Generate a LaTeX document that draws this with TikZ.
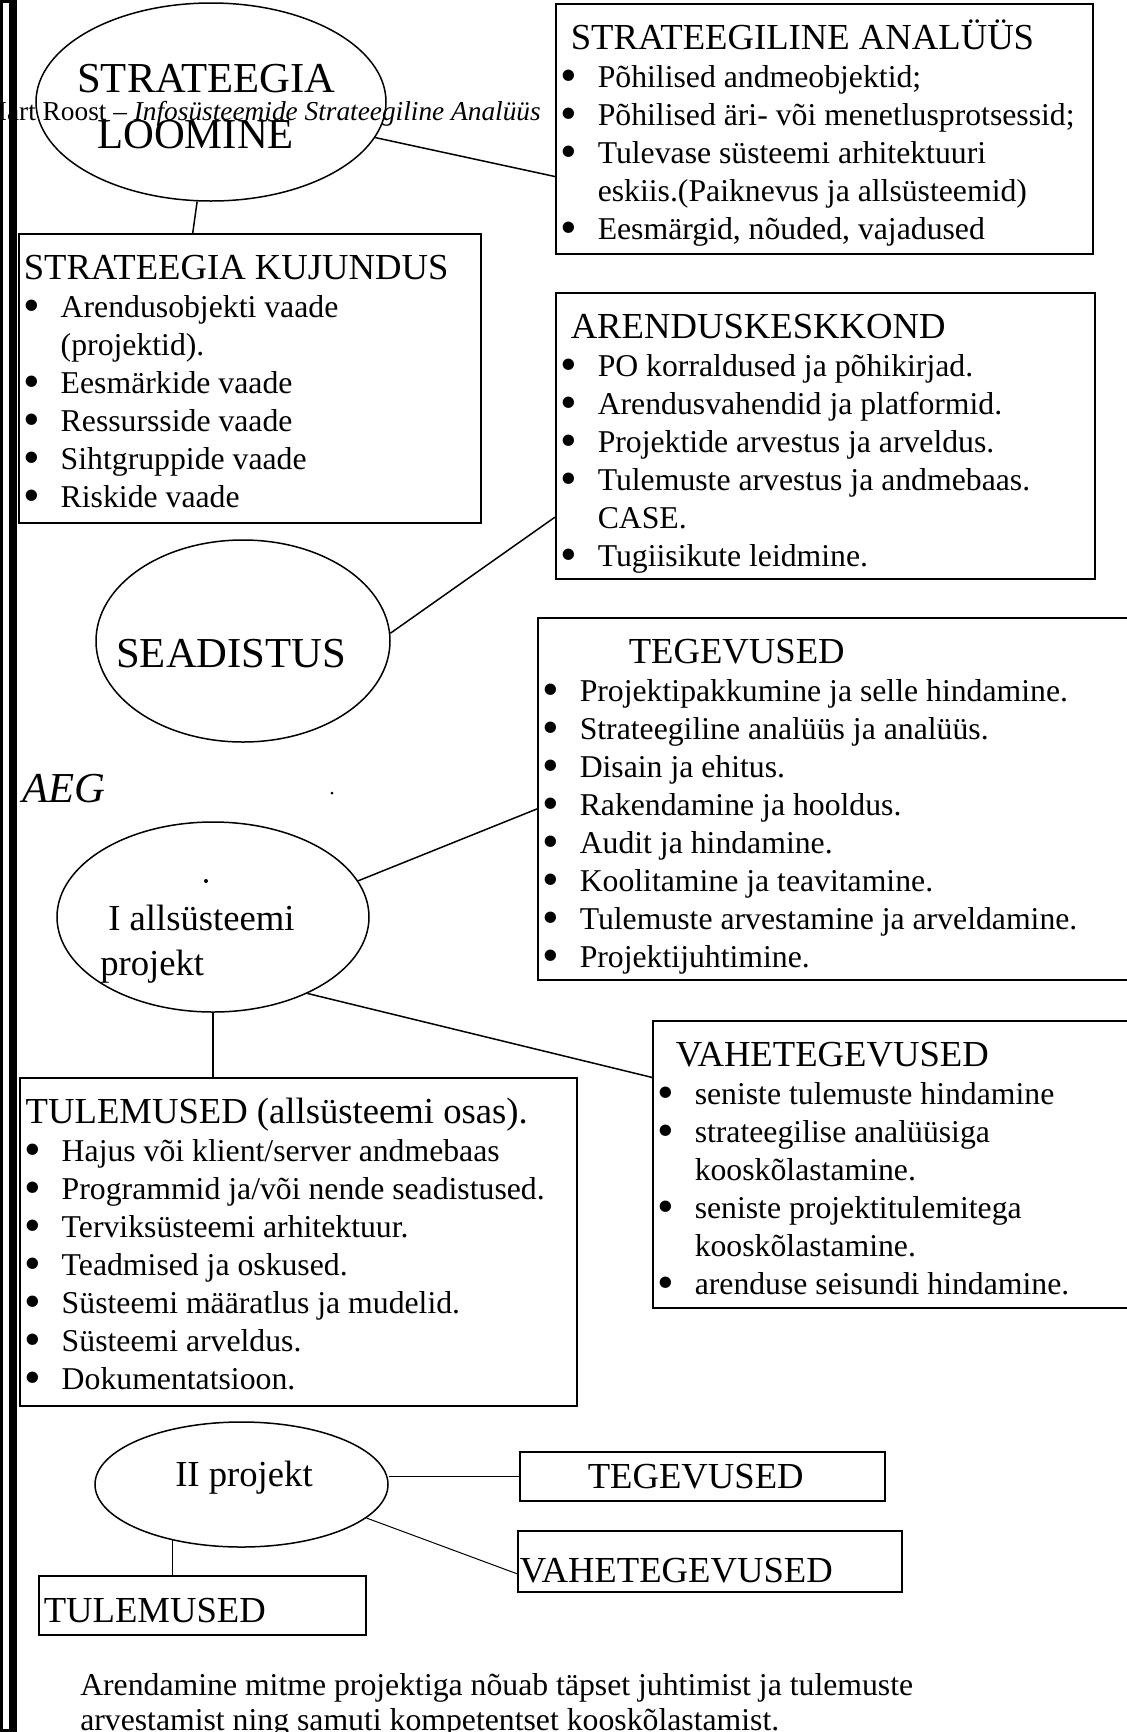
\documentclass[tikz,border=0pt]{standalone}
\usepackage{fontspec}
\setmainfont{Liberation Serif}
\usetikzlibrary{shapes.geometric, calc, positioning}

\newlength{\px}
\setlength{\px}{0.75pt}

\newcommand{\listfont}{\fontsize{23.8pt}{28.5pt}\selectfont}
\newcommand{\titlefont}{\fontsize{27.5pt}{28.5pt}\selectfont}
\newcommand{\ovalfont}{\fontsize{32pt}{36pt}\selectfont}
\newcommand{\runheadfont}{\fontsize{20.5pt}{24pt}\selectfont}

% box body: width, height, lines
\newcommand{\boxtext}[3]{\parbox[c][#2\px][t]{#1\px}{#3}}
\newcommand{\boxtitle}[2]{\hspace*{#1\px}\rule{0pt}{46\px}\mbox{\titlefont #2}\par}
\newcommand{\dotmark}{\raisebox{-3.5\px}{\scalebox{1.5}{\textbullet}}}
\newcommand{\bitem}[1]{\hspace*{5\px}\makebox[37\px][l]{\dotmark}\mbox{#1}\par}
\newcommand{\bcont}[1]{\hspace*{42\px}\mbox{#1}\par}

\tikzset{%
  oval/.style={draw, ellipse, line width=1.5\px, inner sep=0pt},
  listbox/.style={draw, rectangle, line width=1.5\px, inner sep=0pt,
    anchor=north west, font=\listfont},
  ovaltext/.style={anchor=base west, inner sep=0pt, font=\ovalfont},
  edge/.style={line width=1.5\px},
  thin edge/.style={line width=1\px}
}

\begin{document}
\begin{tikzpicture}[x=0.75pt, y=-0.75pt]
  \useasboundingbox (0,0) rectangle (1127,1732);

  % time bar on the left
  \fill (0,0) rectangle (17,1732);
  \fill[white] (3,3) rectangle (9,1729);

  % stages
  \node[oval, minimum width=350\px, minimum height=198\px] (loom) at (211,102) {};
  \node[ovaltext] (loom-a) at (77,92) {STRATEEGIA};
  \node[ovaltext] (loom-b) at (97,148) {LOOMINE};

  \node[oval, minimum width=294\px, minimum height=202\px] (sead) at (243,641) {};
  \node[ovaltext] (sead-a) at (116,667) {SEADISTUS};

  \node[ovaltext, font=\ovalfont\itshape] (aeg) at (22,802) {AEG};

  \node[oval, minimum width=312\px, minimum height=190\px] (iall) at (213,917) {};
  \node[ovaltext, font=\titlefont] (iall-a) at (108,930) {I allsüsteemi};
  \node[ovaltext, font=\titlefont] (iall-b) at (100,975) {projekt};

  \node[oval, minimum width=293\px, minimum height=125\px] (ii) at (241.5,1484.5) {};
  \node[ovaltext, font=\titlefont] (ii-a) at (175,1486) {II projekt};

  \fill (332,793) circle (1.5);
  \fill (206,881) circle (2);

  % running head
  \node[anchor=base east, inner sep=0pt, font=\runheadfont] (runhead) at (541,120)
    {Mart Roost – \textit{Infosüsteemide Strateegiline Analüüs}};

  % lists
  \node[listbox] (anal) at (555,3) {\boxtext{537}{250}{%
    \boxtitle{15}{STRATEEGILINE ANALÜÜS}
    \bitem{Põhilised andmeobjektid;}
    \bitem{Põhilised äri- või menetlusprotsessid;}
    \bitem{Tulevase süsteemi arhitektuuri}
    \bcont{eskiis.(Paiknevus ja allsüsteemid)}
    \bitem{Eesmärgid, nõuded, vajadused}}};

  \node[listbox] (kuj) at (18,233) {\boxtext{462}{289}{%
    \boxtitle{5}{STRATEEGIA KUJUNDUS}
    \bitem{Arendusobjekti vaade}
    \bcont{(projektid).}
    \bitem{Eesmärkide vaade}
    \bitem{Ressursside vaade}
    \bitem{Sihtgruppide vaade}
    \bitem{Riskide vaade}}};

  \node[listbox] (aren) at (555,292) {\boxtext{539}{286}{%
    \boxtitle{15}{ARENDUSKESKKOND}
    \bitem{PO korraldused ja põhikirjad.}
    \bitem{Arendusvahendid ja platformid.}
    \bitem{Projektide arvestus ja arveldus.}
    \bitem{Tulemuste arvestus ja andmebaas.}
    \bcont{CASE.}
    \bitem{Tugiisikute leidmine.}}};

  \node[listbox] (teg) at (537,617) {\boxtext{600}{362}{%
    \boxtitle{91}{TEGEVUSED}
    \bitem{Projektipakkumine ja selle hindamine.}
    \bitem{Strateegiline analüüs ja analüüs.}
    \bitem{Disain ja ehitus.}
    \bitem{Rakendamine ja hooldus.}
    \bitem{Audit ja hindamine.}
    \bitem{Koolitamine ja teavitamine.}
    \bitem{Tulemuste arvestamine ja arveldamine.}
    \bitem{Projektijuhtimine.}}};

  \node[listbox] (vahe) at (652,1020) {\boxtext{490}{287}{%
    \boxtitle{23}{VAHETEGEVUSED}
    \bitem{seniste tulemuste hindamine}
    \bitem{strateegilise analüüsiga}
    \bcont{kooskõlastamine.}
    \bitem{seniste projektitulemitega}
    \bcont{kooskõlastamine.}
    \bitem{arenduse seisundi hindamine.}}};

  \node[listbox] (tul) at (19,1077) {\boxtext{557}{328}{%
    \boxtitle{6}{TULEMUSED (allsüsteemi osas).}
    \bitem{Hajus või klient/server andmebaas}
    \bitem{Programmid ja/või nende seadistused.}
    \bitem{Terviksüsteemi arhitektuur.}
    \bitem{Teadmised ja oskused.}
    \bitem{Süsteemi määratlus ja mudelid.}
    \bitem{Süsteemi arveldus.}
    \bitem{Dokumentatsioon.}}};

  % second project, short form
  \node[listbox, font=\titlefont] (tegs) at (519,1451)
    {\boxtext{365}{49}{\hspace*{68\px}\rule{0pt}{37\px}TEGEVUSED}};
  \node[listbox, font=\titlefont] (vahes) at (517,1530)
    {\boxtext{384}{61}{\hspace*{2\px}\rule{0pt}{52\px}VAHETEGEVUSED}};
  \node[listbox, font=\titlefont] (tuls) at (38,1575)
    {\boxtext{327}{59}{\hspace*{5\px}\rule{0pt}{47\px}TULEMUSED}};

  \node[anchor=base west, inner sep=0pt, font=\listfont] (note-a) at (80,1695)
    {Arendamine mitme projektiga nõuab täpset juhtimist ja tulemuste};
  \node[anchor=base west, inner sep=0pt, font=\listfont] (note-b) at (80,1730)
    {arvestamist ning samuti kompetentset kooskõlastamist.};

  % connectors
  \coordinate (anal-in) at ($(anal.north west)!0.69!(anal.south west)$);
  \coordinate (kuj-in) at ($(kuj.north west)!0.377!(kuj.north east)$);
  \coordinate (aren-in) at ($(aren.north west)!0.783!(aren.south west)$);
  \coordinate (teg-in) at ($(teg.north west)!0.528!(teg.south west)$);
  \coordinate (vahe-in) at ($(vahe.north west)!0.199!(vahe.south west)$);
  \coordinate (vahes-in) at ($(vahes.north west)!0.7!(vahes.south west)$);

  \draw[edge] (loom) -- (anal-in);
  \draw[edge] (loom) -- (kuj-in);
  \draw[edge] (sead.3) -- (aren-in);
  \draw[edge] (iall.14) -- (teg-in);
  \draw[edge] (iall.-39.5) -- (vahe-in);
  \draw[edge] (iall.south) -- (iall.south |- tul.north);
  \draw[thin edge] (ii.east |- tegs.west) -- (tegs.west);
  \draw[thin edge] (ii.-15) -- (vahes-in);
  \draw[thin edge] (ii.219) -- (ii.219 |- tuls.north);
\end{tikzpicture}
\end{document}
